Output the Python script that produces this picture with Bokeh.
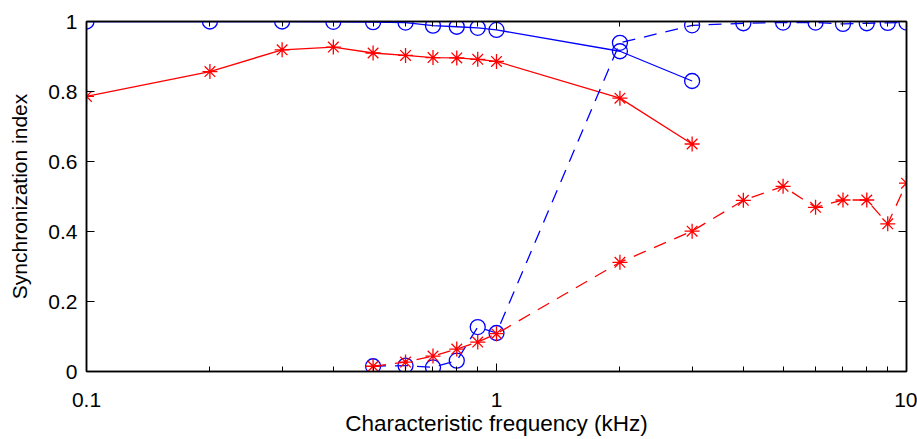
from bokeh.plotting import figure
from bokeh.models import FixedTicker, CustomJSTickFormatter, LinearAxis, LogAxis, Range1d
from bokeh.embed import file_html
from bokeh.resources import INLINE

# Solid series (frequencies 0.1 .. 3 kHz)
f_solid = [0.1, 0.2, 0.3, 0.4, 0.5, 0.6, 0.7, 0.8, 0.9, 1.0, 2.0, 3.0]
blue_solid = [1.0, 1.0, 1.0, 0.999, 0.998, 0.997, 0.988, 0.985, 0.982, 0.976, 0.915, 0.83]
red_solid = [0.786, 0.857, 0.919, 0.927, 0.91, 0.903, 0.897, 0.896, 0.892, 0.886, 0.781, 0.65]

# Dashed series (frequencies 0.5 .. 10 kHz)
f_dashed = [0.5, 0.6, 0.7, 0.8, 0.9, 1.0, 2.0, 3.0, 4.0, 5.0, 6.0, 7.0, 8.0, 9.0, 10.0]
blue_dashed = [0.015, 0.017, 0.012, 0.031, 0.127, 0.11, 0.939, 0.989, 0.995, 0.997, 0.997, 0.993, 0.995, 0.996, 0.997]
red_dashed = [0.015, 0.027, 0.044, 0.064, 0.084, 0.108, 0.312, 0.401, 0.489, 0.529, 0.469, 0.49, 0.49, 0.422, 0.538]

x_major = [0.1, 1, 10]
x_minor = [0.2, 0.3, 0.4, 0.5, 0.6, 0.7, 0.8, 0.9, 2, 3, 4, 5, 6, 7, 8, 9]
y_major = [0, 0.2, 0.4, 0.6, 0.8, 1.0]

FONT = "Liberation Sans"

p = figure(width=917, height=439, x_axis_type="log",
           x_range=Range1d(0.1, 10), y_range=Range1d(0, 1),
           output_backend="svg", toolbar_location=None,
           min_border_left=86, min_border_right=11, min_border_top=21, min_border_bottom=68,
           x_axis_label="Characteristic frequency (kHz)", y_axis_label="Synchronization index")
p.grid.visible = False
p.outline_line_color = "black"
p.outline_line_width = 1.5
p.background_fill_color = "white"
p.border_fill_color = "white"

fmt = CustomJSTickFormatter(code="return String(Math.round(tick*10)/10);")

def style_axis(ax, show_labels):
    ax.axis_line_color = "black"
    ax.axis_line_width = 1.5
    ax.major_tick_in = 8
    ax.major_tick_out = 0
    ax.minor_tick_in = 5
    ax.minor_tick_out = 0
    ax.major_tick_line_color = "black"
    ax.minor_tick_line_color = "black"
    ax.major_label_text_font = FONT
    ax.axis_label_text_font = FONT
    ax.axis_label_text_font_size = "21px"
    ax.axis_label_text_font_style = "normal"
    ax.axis_label_text_color = "black"
    if show_labels:
        ax.major_label_text_font_size = "21px"
        ax.major_label_text_color = "black"
    else:
        ax.major_label_text_font_size = "1px"
        ax.major_label_text_alpha = 0
        ax.major_label_standoff = 0

xa = p.xaxis[0]
xa.ticker = FixedTicker(ticks=x_major, minor_ticks=x_minor)
xa.formatter = fmt
style_axis(xa, True)
xa.axis_label_text_font_size = "22.5px"
xa.major_label_standoff = 21
xa.axis_label_standoff = 1

ya = p.yaxis[0]
ya.ticker = FixedTicker(ticks=y_major, minor_ticks=[])
ya.formatter = fmt
style_axis(ya, True)
ya.major_label_standoff = 9
ya.axis_label_standoff = 14

top = LogAxis(ticker=FixedTicker(ticks=x_major, minor_ticks=x_minor))
style_axis(top, False)
p.add_layout(top, "above")
right = LinearAxis(ticker=FixedTicker(ticks=y_major, minor_ticks=[]))
style_axis(right, False)
p.add_layout(right, "right")

BLUE = "#0000ff"
RED = "#ff0000"
LW = 1.3

p.line(f_solid, blue_solid, line_color=BLUE, line_width=LW)
p.scatter(f_solid, blue_solid, marker="circle", size=15, fill_color=None, line_color=BLUE, line_width=LW)
p.line(f_solid, red_solid, line_color=RED, line_width=LW)
p.scatter(f_solid, red_solid, marker="asterisk", size=15, line_color=RED, line_width=LW)

p.line(f_dashed, blue_dashed, line_color=BLUE, line_width=LW, line_dash="13 9")
p.scatter(f_dashed, blue_dashed, marker="circle", size=15, fill_color=None, line_color=BLUE, line_width=LW)
p.line(f_dashed, red_dashed, line_color=RED, line_width=LW, line_dash="13 9")
p.scatter(f_dashed, red_dashed, marker="asterisk", size=15, line_color=RED, line_width=LW)

open("out.html", "w").write(file_html(p, INLINE))
